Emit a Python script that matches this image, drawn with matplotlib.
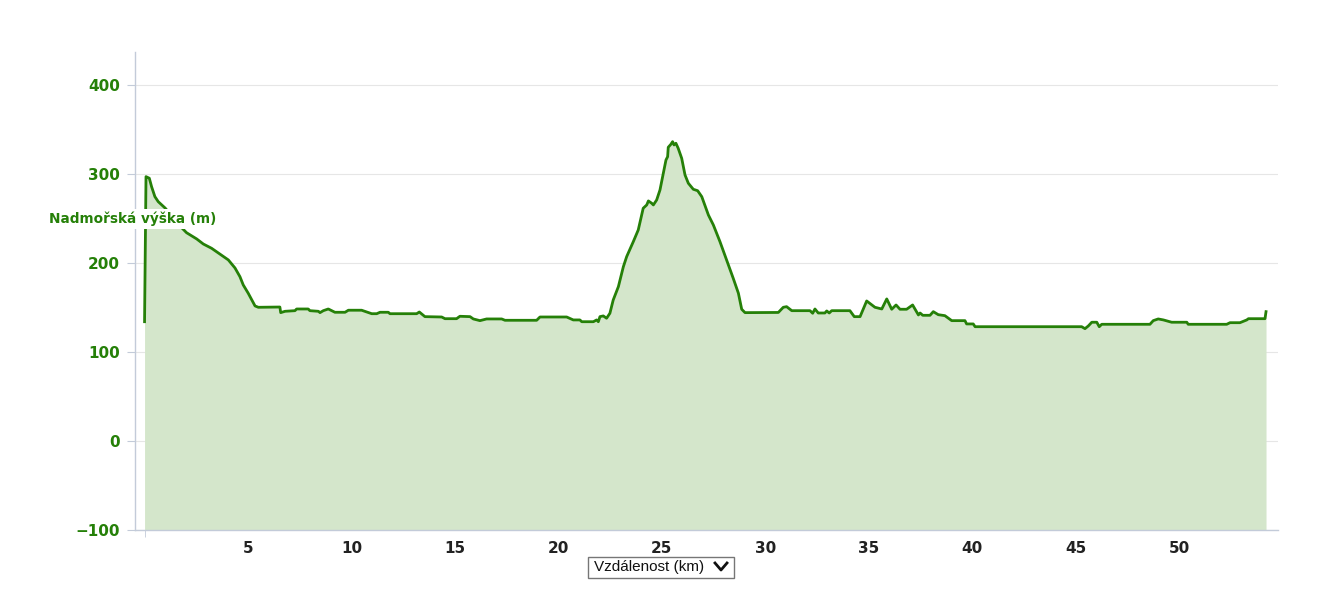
import matplotlib
matplotlib.use("Agg")
import matplotlib.pyplot as plt
from matplotlib.patches import Rectangle
from matplotlib.lines import Line2D

# distance (km) and elevation (m)
distance_km = [
    0.00, 0.07, 0.23, 0.34, 0.50, 0.66, 0.99, 1.32, 1.71, 2.03, 2.52, 2.84, 3.24,
    3.64, 4.05, 4.37, 4.61, 4.77, 5.01, 5.34, 5.50, 6.54, 6.58, 6.79, 7.27, 7.35,
    7.91, 7.99, 8.40, 8.48, 8.64, 8.88, 9.20, 9.69, 9.85, 10.49, 10.98, 11.22,
    11.38, 11.78, 11.86, 13.15, 13.28, 13.55, 14.36, 14.52, 15.08, 15.24, 15.73,
    15.89, 16.21, 16.53, 17.26, 17.42, 18.95, 19.11, 20.40, 20.72, 21.04, 21.13,
    21.69, 21.85, 21.93, 22.01, 22.17, 22.33, 22.49, 22.65, 22.90, 23.14, 23.30,
    23.62, 23.86, 24.10, 24.27, 24.35, 24.51, 24.59, 24.75, 24.91, 25.07, 25.20,
    25.28, 25.31, 25.44, 25.52, 25.59, 25.68, 25.79, 25.96, 26.12, 26.28, 26.52,
    26.73, 26.93, 27.25, 27.49, 27.81, 28.13, 28.45, 28.70, 28.86, 29.02, 30.63,
    30.87, 31.03, 31.28, 32.16, 32.29, 32.40, 32.56, 32.88, 32.97, 33.09, 33.21,
    34.09, 34.30, 34.58, 34.90, 35.30, 35.63, 35.87, 36.11, 36.32, 36.51, 36.83,
    37.12, 37.40, 37.48, 37.61, 37.96, 38.12, 38.36, 38.68, 39.01, 39.65, 39.73,
    40.05, 40.14, 45.29, 45.45, 45.61, 45.78, 46.02, 46.14, 46.26, 48.59, 48.75,
    48.99, 49.24, 49.64, 50.37, 50.44, 52.30, 52.46, 52.94, 53.27, 53.35, 54.15,
    54.20,
]
elevation_m = [
    134.0, 297.0, 295.2, 285.7, 274.5, 268.9, 261.8, 252.8, 241.6, 234.0, 227.0,
    221.3, 216.5, 210.1, 203.4, 194.4, 184.6, 175.3, 166.0, 151.7, 150.2, 150.5,
    144.2, 145.7, 146.4, 148.3, 148.3, 146.4, 145.7, 144.2, 146.4, 148.3, 144.6,
    144.6, 146.9, 146.9, 143.0, 143.0, 144.6, 144.6, 143.0, 143.0, 144.9, 139.7,
    139.3, 137.4, 137.4, 140.1, 139.7, 137.1, 135.2, 137.1, 137.1, 135.6, 135.6,
    139.3, 139.3, 136.0, 136.0, 134.0, 134.0, 136.0, 134.0, 139.7, 140.5, 137.9,
    143.5, 158.4, 173.4, 195.8, 207.1, 223.9, 237.1, 261.5, 265.2, 269.7, 267.1,
    265.2, 270.8, 282.0, 300.8, 315.7, 319.4, 330.0, 333.4, 336.3, 332.6, 334.5,
    328.9, 317.6, 298.9, 289.6, 282.8, 281.2, 274.5, 253.9, 242.7, 223.9, 203.4,
    182.8, 166.0, 148.0, 144.2, 144.4, 150.2, 150.9, 146.4, 146.4, 143.5, 148.3,
    143.8, 143.8, 146.1, 143.8, 146.4, 146.4, 139.7, 139.7, 157.3, 150.2, 148.3,
    159.6, 148.0, 152.8, 148.0, 148.0, 152.8, 141.6, 143.8, 141.2, 141.2, 145.3,
    141.9, 140.8, 135.2, 135.2, 131.5, 131.5, 128.4, 128.4, 126.2, 129.2, 133.4,
    133.4, 128.4, 131.1, 131.1, 135.2, 137.1, 136.0, 133.4, 133.4, 131.1, 131.1,
    132.9, 132.9, 136.0, 137.4, 137.4, 145.3,
]

y_ticks = [-100, 0, 100, 200, 300, 400]
x_ticks = [5, 10, 15, 20, 25, 30, 35, 40, 45, 50]

LINE_GREEN = "#258008"
FILL_GREEN = "#d4e6cb"
AXIS_COLOR = "#c3cbd9"

fig = plt.figure(figsize=(13.2, 6.05), dpi=100)
ax = fig.add_axes([0.1023, 0.124, 0.8659, 0.790])

ax.fill_between(distance_km, elevation_m, -100, color=FILL_GREEN, linewidth=0)
ax.plot(distance_km, elevation_m, color=LINE_GREEN, linewidth=2.0,
        solid_joinstyle="round")

ax.set_xlim(-0.46, 54.78)
ax.set_ylim(-100, 437)

ax.set_yticks(y_ticks)
ax.set_yticklabels([str(v).replace("-", "\u2212") for v in y_ticks])
ax.set_xticks(x_ticks)
ax.set_xticks([0], minor=True)
ax.grid(axis="y", color="#e6e6e6", linewidth=0.8)
ax.set_axisbelow(True)

for side in ("top", "right"):
    ax.spines[side].set_visible(False)
for side in ("left", "bottom"):
    ax.spines[side].set_color(AXIS_COLOR)
    ax.spines[side].set_linewidth(1.0)

ax.tick_params(axis="y", length=6, color=AXIS_COLOR, pad=5,
               labelcolor=LINE_GREEN, labelsize=11)
ax.tick_params(axis="x", which="major", length=0, pad=8,
               labelcolor="#222222", labelsize=11)
ax.tick_params(axis="x", which="minor", length=5, color=AXIS_COLOR)
for lab in ax.get_yticklabels() + ax.get_xticklabels():
    lab.set_fontweight("bold")

fig.text(49 / 1320, 1 - 219 / 605, "Nadmořská výška (m)", color=LINE_GREEN,
         fontsize=9.8, fontweight="bold", ha="left", va="center",
         bbox=dict(facecolor="white", edgecolor="none", pad=2))

# distance selector box under the axis
fig.patches.append(Rectangle((588 / 1320, 1 - 578 / 605), 146 / 1320, 21 / 605,
                             transform=fig.transFigure, facecolor="white",
                             edgecolor="#767676", linewidth=1.0))
fig.text(594 / 1320, 1 - 567 / 605, "Vzdálenost (km)", family="Liberation Sans",
         fontsize=11, color="#111111", ha="left", va="center")
fig.lines.append(Line2D([715 / 1320, 721 / 1320, 727 / 1320],
                        [1 - 563 / 605, 1 - 570 / 605, 1 - 563 / 605],
                        transform=fig.transFigure, color="#111111", linewidth=2.0))

fig.savefig("out.png", dpi=100)
plt.close(fig)
